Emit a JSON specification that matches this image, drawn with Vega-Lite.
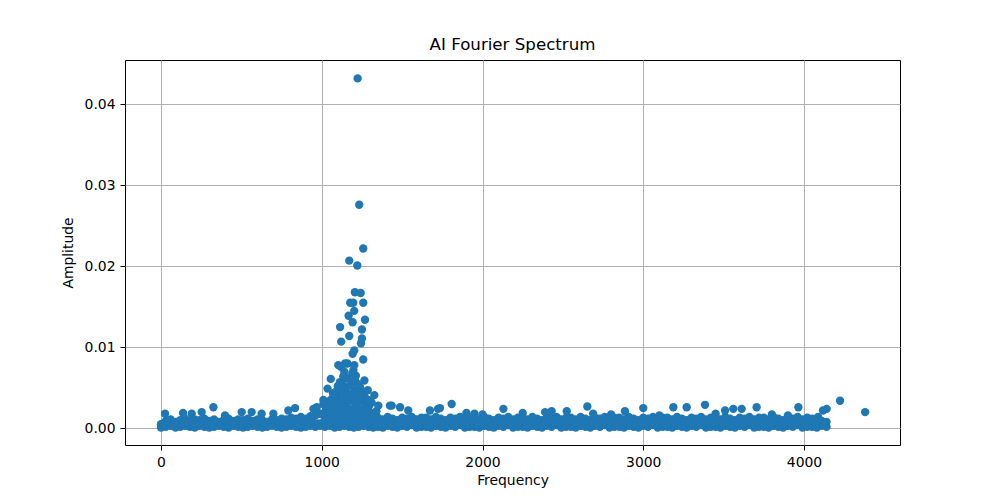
{
  "$schema": "https://vega.github.io/schema/vega-lite/v6.json",
  "autosize": {"type": "none"},
  "padding": {"left": 125, "top": 60, "right": 100, "bottom": 55},
  "width": 775,
  "height": 385,
  "background": "white",
  "title": {"text": "AI Fourier Spectrum", "font": "DejaVu Sans", "fontSize": 16.67, "fontWeight": "normal", "color": "black", "anchor": "middle", "offset": 6},
  "config": {
    "view": {"stroke": "black", "strokeWidth": 1},
    "axis": {"labelFont": "DejaVu Sans", "titleFont": "DejaVu Sans", "labelFontSize": 13.9, "titleFontSize": 13.9, "titleFontWeight": "normal", "labelColor": "black", "titleColor": "black", "tickColor": "black", "tickSize": 5, "gridColor": "#b0b0b0", "gridWidth": 1, "domain": false}
  },
  "data": {"values": [
    {"f":0,"a":0.0001},{"f":0,"a":0.0005},{"f":30,"a":0.0002},{"f":30,"a":0.0009},{"f":60,"a":0.0003},{"f":60,"a":0.0011},{"f":90,"a":0.0001},{"f":90,"a":0.0008},{"f":120,"a":0.0002},{"f":120,"a":0.0010},{"f":150,"a":0.0003},{"f":150,"a":0.0012},{"f":180,"a":0.0002},{"f":180,"a":0.0009},{"f":210,"a":0.0001},{"f":210,"a":0.0011},{"f":240,"a":0.0003},{"f":240,"a":0.0010},{"f":270,"a":0.0002},{"f":270,"a":0.0012},{"f":300,"a":0.0001},{"f":300,"a":0.0009},{"f":330,"a":0.0002},{"f":330,"a":0.0011},{"f":360,"a":0.0003},{"f":360,"a":0.0008},{"f":390,"a":0.0002},{"f":390,"a":0.0010},{"f":420,"a":0.0001},{"f":420,"a":0.0012},{"f":450,"a":0.0003},{"f":450,"a":0.0009},{"f":480,"a":0.0002},{"f":480,"a":0.0011},{"f":510,"a":0.0001},{"f":510,"a":0.0010},{"f":540,"a":0.0002},{"f":540,"a":0.0012},{"f":570,"a":0.0003},{"f":570,"a":0.0009},{"f":600,"a":0.0002},{"f":600,"a":0.0011},{"f":630,"a":0.0001},{"f":630,"a":0.0010},{"f":660,"a":0.0002},{"f":660,"a":0.0008},{"f":690,"a":0.0003},{"f":690,"a":0.0011},{"f":720,"a":0.0002},{"f":720,"a":0.0010},{"f":750,"a":0.0001},{"f":750,"a":0.0012},{"f":780,"a":0.0002},{"f":780,"a":0.0011},{"f":810,"a":0.0003},{"f":810,"a":0.0013},{"f":840,"a":0.0002},{"f":840,"a":0.0012},{"f":870,"a":0.0001},{"f":870,"a":0.0014},{"f":900,"a":0.0002},{"f":900,"a":0.0012},{"f":930,"a":0.0003},{"f":930,"a":0.0015},{"f":960,"a":0.0002},{"f":960,"a":0.0016},{"f":990,"a":0.0003},{"f":990,"a":0.0018},{"f":1020,"a":0.0002},{"f":1020,"a":0.0012},{"f":1050,"a":0.0003},{"f":1050,"a":0.0011},{"f":1080,"a":0.0001},{"f":1080,"a":0.0013},{"f":1110,"a":0.0002},{"f":1110,"a":0.0012},{"f":1140,"a":0.0003},{"f":1140,"a":0.0011},{"f":1170,"a":0.0002},{"f":1170,"a":0.0013},{"f":1200,"a":0.0001},{"f":1200,"a":0.0012},{"f":1230,"a":0.0002},{"f":1230,"a":0.0011},{"f":1260,"a":0.0003},{"f":1260,"a":0.0013},{"f":1290,"a":0.0002},{"f":1290,"a":0.0012},{"f":1320,"a":0.0001},{"f":1320,"a":0.0014},
    {"f":1350,"a":0.0002},{"f":1350,"a":0.0013},{"f":1380,"a":0.0001},{"f":1380,"a":0.0011},{"f":1410,"a":0.0003},{"f":1410,"a":0.0014},{"f":1440,"a":0.0002},{"f":1440,"a":0.0012},{"f":1470,"a":0.0001},{"f":1470,"a":0.0010},{"f":1500,"a":0.0003},{"f":1500,"a":0.0013},{"f":1530,"a":0.0002},{"f":1530,"a":0.0012},{"f":1560,"a":0.0004},{"f":1560,"a":0.0014},{"f":1590,"a":0.0001},{"f":1590,"a":0.0011},{"f":1620,"a":0.0002},{"f":1620,"a":0.0013},
    {"f":1650,"a":0.0002},{"f":1650,"a":0.0013},{"f":1680,"a":0.0001},{"f":1680,"a":0.0011},{"f":1710,"a":0.0003},{"f":1710,"a":0.0014},{"f":1740,"a":0.0002},{"f":1740,"a":0.0012},{"f":1770,"a":0.0001},{"f":1770,"a":0.0010},{"f":1800,"a":0.0003},{"f":1800,"a":0.0013},{"f":1830,"a":0.0002},{"f":1830,"a":0.0012},{"f":1860,"a":0.0004},{"f":1860,"a":0.0014},{"f":1890,"a":0.0001},{"f":1890,"a":0.0011},{"f":1920,"a":0.0002},{"f":1920,"a":0.0013},
    {"f":1950,"a":0.0002},{"f":1950,"a":0.0013},{"f":1980,"a":0.0001},{"f":1980,"a":0.0011},{"f":2010,"a":0.0003},{"f":2010,"a":0.0014},{"f":2040,"a":0.0002},{"f":2040,"a":0.0012},{"f":2070,"a":0.0001},{"f":2070,"a":0.0010},{"f":2100,"a":0.0003},{"f":2100,"a":0.0013},{"f":2130,"a":0.0002},{"f":2130,"a":0.0012},{"f":2160,"a":0.0004},{"f":2160,"a":0.0014},{"f":2190,"a":0.0001},{"f":2190,"a":0.0011},{"f":2220,"a":0.0002},{"f":2220,"a":0.0013},
    {"f":2250,"a":0.0002},{"f":2250,"a":0.0013},{"f":2280,"a":0.0001},{"f":2280,"a":0.0011},{"f":2310,"a":0.0003},{"f":2310,"a":0.0014},{"f":2340,"a":0.0002},{"f":2340,"a":0.0012},{"f":2370,"a":0.0001},{"f":2370,"a":0.0010},{"f":2400,"a":0.0003},{"f":2400,"a":0.0013},{"f":2430,"a":0.0002},{"f":2430,"a":0.0012},{"f":2460,"a":0.0004},{"f":2460,"a":0.0014},{"f":2490,"a":0.0001},{"f":2490,"a":0.0011},{"f":2520,"a":0.0002},{"f":2520,"a":0.0013},
    {"f":2550,"a":0.0002},{"f":2550,"a":0.0013},{"f":2580,"a":0.0001},{"f":2580,"a":0.0011},{"f":2610,"a":0.0003},{"f":2610,"a":0.0014},{"f":2640,"a":0.0002},{"f":2640,"a":0.0012},{"f":2670,"a":0.0001},{"f":2670,"a":0.0010},{"f":2700,"a":0.0003},{"f":2700,"a":0.0013},{"f":2730,"a":0.0002},{"f":2730,"a":0.0012},{"f":2760,"a":0.0004},{"f":2760,"a":0.0014},{"f":2790,"a":0.0001},{"f":2790,"a":0.0011},{"f":2820,"a":0.0002},{"f":2820,"a":0.0013},
    {"f":2850,"a":0.0002},{"f":2850,"a":0.0013},{"f":2880,"a":0.0001},{"f":2880,"a":0.0011},{"f":2910,"a":0.0003},{"f":2910,"a":0.0014},{"f":2940,"a":0.0002},{"f":2940,"a":0.0012},{"f":2970,"a":0.0001},{"f":2970,"a":0.0010},{"f":3000,"a":0.0003},{"f":3000,"a":0.0013},{"f":3030,"a":0.0002},{"f":3030,"a":0.0012},{"f":3060,"a":0.0004},{"f":3060,"a":0.0014},{"f":3090,"a":0.0001},{"f":3090,"a":0.0011},{"f":3120,"a":0.0002},{"f":3120,"a":0.0013},
    {"f":3150,"a":0.0002},{"f":3150,"a":0.0013},{"f":3180,"a":0.0001},{"f":3180,"a":0.0011},{"f":3210,"a":0.0003},{"f":3210,"a":0.0014},{"f":3240,"a":0.0002},{"f":3240,"a":0.0012},{"f":3270,"a":0.0001},{"f":3270,"a":0.0010},{"f":3300,"a":0.0003},{"f":3300,"a":0.0013},{"f":3330,"a":0.0002},{"f":3330,"a":0.0012},{"f":3360,"a":0.0004},{"f":3360,"a":0.0014},{"f":3390,"a":0.0001},{"f":3390,"a":0.0011},{"f":3420,"a":0.0002},{"f":3420,"a":0.0013},
    {"f":3450,"a":0.0002},{"f":3450,"a":0.0013},{"f":3480,"a":0.0001},{"f":3480,"a":0.0011},{"f":3510,"a":0.0003},{"f":3510,"a":0.0014},{"f":3540,"a":0.0002},{"f":3540,"a":0.0012},{"f":3570,"a":0.0001},{"f":3570,"a":0.0010},{"f":3600,"a":0.0003},{"f":3600,"a":0.0013},{"f":3630,"a":0.0002},{"f":3630,"a":0.0012},{"f":3660,"a":0.0004},{"f":3660,"a":0.0014},{"f":3690,"a":0.0001},{"f":3690,"a":0.0011},{"f":3720,"a":0.0002},{"f":3720,"a":0.0013},
    {"f":3750,"a":0.0002},{"f":3750,"a":0.0013},{"f":3780,"a":0.0001},{"f":3780,"a":0.0011},{"f":3810,"a":0.0003},{"f":3810,"a":0.0014},{"f":3840,"a":0.0002},{"f":3840,"a":0.0012},{"f":3870,"a":0.0001},{"f":3870,"a":0.0010},{"f":3900,"a":0.0003},{"f":3900,"a":0.0013},{"f":3930,"a":0.0002},{"f":3930,"a":0.0012},{"f":3960,"a":0.0004},{"f":3960,"a":0.0014},{"f":3990,"a":0.0001},{"f":3990,"a":0.0011},{"f":4020,"a":0.0002},{"f":4020,"a":0.0013},
    {"f":4050,"a":0.0002},{"f":4050,"a":0.0012},{"f":4080,"a":0.0001},{"f":4080,"a":0.0010},{"f":4110,"a":0.0003},{"f":4110,"a":0.0009},{"f":4140,"a":0.0002},{"f":4140,"a":0.0008},
    {"f":15,"a":0.0006},{"f":45,"a":0.0007},{"f":75,"a":0.0005},{"f":105,"a":0.0008},{"f":135,"a":0.0006},{"f":165,"a":0.0007},{"f":195,"a":0.0005},{"f":225,"a":0.0008},{"f":255,"a":0.0006},{"f":285,"a":0.0007},{"f":315,"a":0.0005},{"f":345,"a":0.0008},{"f":375,"a":0.0006},{"f":405,"a":0.0007},{"f":435,"a":0.0005},{"f":465,"a":0.0008},{"f":495,"a":0.0006},{"f":525,"a":0.0007},{"f":555,"a":0.0005},{"f":585,"a":0.0008},{"f":615,"a":0.0006},{"f":645,"a":0.0007},{"f":675,"a":0.0005},{"f":705,"a":0.0008},{"f":735,"a":0.0006},{"f":765,"a":0.0007},{"f":795,"a":0.0005},{"f":825,"a":0.0008},{"f":855,"a":0.0006},{"f":885,"a":0.0007},{"f":915,"a":0.0005},{"f":945,"a":0.0008},{"f":975,"a":0.0006},{"f":1005,"a":0.0007},{"f":1035,"a":0.0005},{"f":1065,"a":0.0008},{"f":1095,"a":0.0006},{"f":1125,"a":0.0007},{"f":1155,"a":0.0005},{"f":1185,"a":0.0008},{"f":1215,"a":0.0006},{"f":1245,"a":0.0007},{"f":1275,"a":0.0005},{"f":1305,"a":0.0008},{"f":1335,"a":0.0006},{"f":1365,"a":0.0007},{"f":1395,"a":0.0005},{"f":1425,"a":0.0008},{"f":1455,"a":0.0006},{"f":1485,"a":0.0007},{"f":1515,"a":0.0005},{"f":1545,"a":0.0008},{"f":1575,"a":0.0006},{"f":1605,"a":0.0007},{"f":1635,"a":0.0005},{"f":1665,"a":0.0008},{"f":1695,"a":0.0006},{"f":1725,"a":0.0007},{"f":1755,"a":0.0005},{"f":1785,"a":0.0008},{"f":1815,"a":0.0006},{"f":1845,"a":0.0007},{"f":1875,"a":0.0005},{"f":1905,"a":0.0008},{"f":1935,"a":0.0006},{"f":1965,"a":0.0007},{"f":1995,"a":0.0005},{"f":2025,"a":0.0008},{"f":2055,"a":0.0006},{"f":2085,"a":0.0007},{"f":2115,"a":0.0005},{"f":2145,"a":0.0008},{"f":2175,"a":0.0006},{"f":2205,"a":0.0007},{"f":2235,"a":0.0005},{"f":2265,"a":0.0008},{"f":2295,"a":0.0006},{"f":2325,"a":0.0007},{"f":2355,"a":0.0005},{"f":2385,"a":0.0008},{"f":2415,"a":0.0006},{"f":2445,"a":0.0007},{"f":2475,"a":0.0005},{"f":2505,"a":0.0008},{"f":2535,"a":0.0006},{"f":2565,"a":0.0007},{"f":2595,"a":0.0005},{"f":2625,"a":0.0008},{"f":2655,"a":0.0006},{"f":2685,"a":0.0007},{"f":2715,"a":0.0005},{"f":2745,"a":0.0008},{"f":2775,"a":0.0006},{"f":2805,"a":0.0007},{"f":2835,"a":0.0005},{"f":2865,"a":0.0008},{"f":2895,"a":0.0006},{"f":2925,"a":0.0007},{"f":2955,"a":0.0005},{"f":2985,"a":0.0008},{"f":3015,"a":0.0006},{"f":3045,"a":0.0007},{"f":3075,"a":0.0005},{"f":3105,"a":0.0008},{"f":3135,"a":0.0006},{"f":3165,"a":0.0007},{"f":3195,"a":0.0005},{"f":3225,"a":0.0008},{"f":3255,"a":0.0006},{"f":3285,"a":0.0007},{"f":3315,"a":0.0005},{"f":3345,"a":0.0008},{"f":3375,"a":0.0006},{"f":3405,"a":0.0007},{"f":3435,"a":0.0005},{"f":3465,"a":0.0008},{"f":3495,"a":0.0006},{"f":3525,"a":0.0007},{"f":3555,"a":0.0005},{"f":3585,"a":0.0008},{"f":3615,"a":0.0006},{"f":3645,"a":0.0007},{"f":3675,"a":0.0005},{"f":3705,"a":0.0008},{"f":3735,"a":0.0006},{"f":3765,"a":0.0007},{"f":3795,"a":0.0005},{"f":3825,"a":0.0008},{"f":3855,"a":0.0006},{"f":3885,"a":0.0007},{"f":3915,"a":0.0005},{"f":3945,"a":0.0008},{"f":3975,"a":0.0006},{"f":4005,"a":0.0007},{"f":4035,"a":0.0005},{"f":4065,"a":0.0008},{"f":4095,"a":0.0006},{"f":4125,"a":0.0005},
    {"f":1010,"a":0.0018},{"f":1010,"a":0.003},{"f":1025,"a":0.0022},{"f":1040,"a":0.0028},{"f":1040,"a":0.0016},{"f":1055,"a":0.0035},{"f":1055,"a":0.002},{"f":1070,"a":0.0025},{"f":1070,"a":0.0043},{"f":1085,"a":0.0018},{"f":1085,"a":0.0032},{"f":1085,"a":0.0045},{"f":1100,"a":0.0022},{"f":1100,"a":0.0038},{"f":1100,"a":0.0052},{"f":1115,"a":0.0016},{"f":1115,"a":0.003},{"f":1115,"a":0.0046},{"f":1130,"a":0.0024},{"f":1130,"a":0.004},{"f":1130,"a":0.0055},{"f":1145,"a":0.0018},{"f":1145,"a":0.0033},{"f":1145,"a":0.0048},{"f":1160,"a":0.0026},{"f":1160,"a":0.0042},{"f":1160,"a":0.0062},{"f":1175,"a":0.0019},{"f":1175,"a":0.0035},{"f":1175,"a":0.0053},{"f":1190,"a":0.0023},{"f":1190,"a":0.0038},{"f":1190,"a":0.0058},{"f":1190,"a":0.0068},{"f":1205,"a":0.0018},{"f":1205,"a":0.0031},{"f":1205,"a":0.0046},{"f":1220,"a":0.0025},{"f":1220,"a":0.004},{"f":1220,"a":0.0055},{"f":1235,"a":0.0017},{"f":1235,"a":0.0033},{"f":1235,"a":0.0048},{"f":1250,"a":0.0022},{"f":1250,"a":0.0038},{"f":1265,"a":0.0016},{"f":1265,"a":0.003},{"f":1265,"a":0.0044},{"f":1280,"a":0.0021},{"f":1280,"a":0.0036},{"f":1295,"a":0.0015},{"f":1295,"a":0.0028},{"f":1310,"a":0.0019},{"f":1310,"a":0.0032},{"f":1325,"a":0.0016},{"f":1340,"a":0.0021},
    {"f":1223,"a":0.0432},{"f":1233,"a":0.0276},{"f":1258,"a":0.0222},{"f":1171,"a":0.0207},{"f":1221,"a":0.0201},{"f":1206,"a":0.0168},{"f":1242,"a":0.0167},{"f":1258,"a":0.0155},{"f":1177,"a":0.0155},{"f":1196,"a":0.0155},{"f":1167,"a":0.0139},{"f":1202,"a":0.0145},{"f":1269,"a":0.0134},{"f":1192,"a":0.0131},{"f":1114,"a":0.0125},{"f":1250,"a":0.0122},{"f":1171,"a":0.0114},{"f":1250,"a":0.0111},{"f":1121,"a":0.0107},{"f":1244,"a":0.0105},{"f":1202,"a":0.0096},{"f":1192,"a":0.0092},{"f":1258,"a":0.0085},{"f":1160,"a":0.008},{"f":1119,"a":0.0076},{"f":1202,"a":0.0078},{"f":1140,"a":0.007},{"f":1212,"a":0.0065},{"f":1056,"a":0.0061},{"f":1265,"a":0.0059},{"f":1036,"a":0.0049},{"f":1327,"a":0.0041},{"f":1286,"a":0.0047},{"f":1197,"a":0.0072},{"f":1145,"a":0.008},{"f":1103,"a":0.0078},{"f":1113,"a":0.0057},{"f":1238,"a":0.0051},{"f":1134,"a":0.0064},{"f":1207,"a":0.0059},{"f":1010,"a":0.0035},{"f":1072,"a":0.0043},{"f":1175,"a":0.0043},{"f":1290,"a":0.0035},
    {"f":25,"a":0.0018},{"f":137,"a":0.0019},{"f":191,"a":0.0018},{"f":253,"a":0.002},{"f":326,"a":0.0026},{"f":398,"a":0.0016},{"f":502,"a":0.002},{"f":564,"a":0.002},{"f":626,"a":0.0018},{"f":699,"a":0.0018},{"f":792,"a":0.0022},{"f":834,"a":0.0025},{"f":948,"a":0.0024},{"f":969,"a":0.0026},{"f":1352,"a":0.0028},{"f":1424,"a":0.0028},{"f":1435,"a":0.0028},{"f":1487,"a":0.0026},{"f":1538,"a":0.0022},{"f":1673,"a":0.0022},{"f":1723,"a":0.0024},{"f":1735,"a":0.0025},{"f":1808,"a":0.003},{"f":1900,"a":0.0019},{"f":1950,"a":0.0018},{"f":2000,"a":0.0017},{"f":2130,"a":0.0024},{"f":2250,"a":0.0019},{"f":2389,"a":0.002},{"f":2430,"a":0.0021},{"f":2524,"a":0.0021},{"f":2652,"a":0.0027},{"f":2688,"a":0.0018},{"f":2800,"a":0.0017},{"f":2886,"a":0.0021},{"f":3000,"a":0.0025},{"f":3100,"a":0.0016},{"f":3187,"a":0.0026},{"f":3270,"a":0.0026},{"f":3384,"a":0.0029},{"f":3450,"a":0.0018},{"f":3509,"a":0.0022},{"f":3560,"a":0.0024},{"f":3612,"a":0.0024},{"f":3705,"a":0.0026},{"f":3800,"a":0.0017},{"f":3900,"a":0.0016},{"f":3965,"a":0.0026},{"f":4087,"a":0.0014},{"f":4118,"a":0.0022},{"f":4141,"a":0.0024},{"f":4224,"a":0.0034},{"f":4380,"a":0.002}
  ]},
  "mark": {"type": "point", "filled": true, "shape": "circle", "size": 70, "color": "#1f77b4", "opacity": 1, "strokeWidth": 0},
  "encoding": {
    "x": {"field": "f", "type": "quantitative", "title": "Frequency", "scale": {"domain": [-224, 4597], "nice": false, "zero": false}, "axis": {"values": [0, 1000, 2000, 3000, 4000], "format": "d", "labelPadding": 5, "titlePadding": 5}},
    "y": {"field": "a", "type": "quantitative", "title": "Amplitude", "scale": {"domain": [-0.00206, 0.04547], "nice": false, "zero": false}, "axis": {"values": [0, 0.01, 0.02, 0.03, 0.04], "format": ".2f", "labelPadding": 5, "titlePadding": 9}}
  }
}
